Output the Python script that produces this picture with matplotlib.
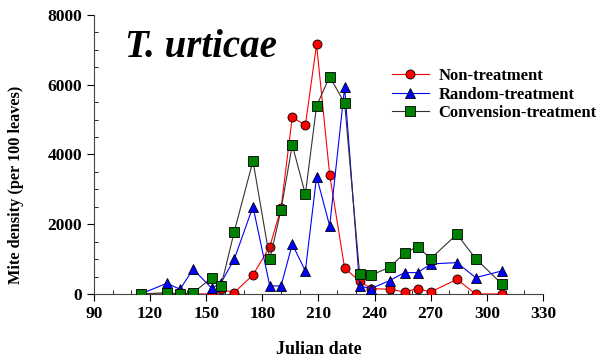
import matplotlib
matplotlib.use("Agg")
import matplotlib.pyplot as plt
from matplotlib.ticker import MultipleLocator

plt.rcParams['font.family'] = ['Liberation Serif', 'DejaVu Serif']
plt.rcParams['font.weight'] = 'bold'

# sampling dates (Julian day)
days = [115, 129, 136, 143, 153, 158, 165, 175, 184, 190, 196, 203, 209, 216,
        224, 232, 238, 248, 256, 263, 270, 284, 294, 308]

non_treat = [0, 0, 0, 0, 0, 130, 40, 545, 1356, 2457, 5066, 4836, 7150, 3412,
             736, 373, 153, 134, 57, 153, 57, 420, 0, 0]
random_treat = [0, 306, 134, 708, 163, 325, 995, 2503, 229, 229, 1425, 659, 3363, 1950,
                5926, 229, 153, 382, 611, 611, 860, 898, 468, 659]
conv_treat = [0, 37, 0, 30, 468, 239, 1786, 3813, 995, 2408, 4272, 2858, 5390, 6231,
              5467, 573, 535, 764, 1166, 1357, 1013, 1711, 1013, 287]

labels = ['Non-treatment', 'Random-treatment', 'Convension-treatment']

fig = plt.figure(figsize=(6.06, 3.62), dpi=100)
ax = fig.add_axes([0.155, 0.188, 0.741, 0.771])

ax.plot(days, non_treat, '-o', color='red', mfc='red', mec='black', mew=0.6,
        ms=6.5, lw=0.8, label=labels[0], zorder=3)
ax.plot(days, random_treat, '-^', color='blue', mfc='blue', mec='black', mew=0.6,
        ms=7, lw=0.8, label=labels[1], zorder=4)
ax.plot(days, conv_treat, '-s', color='#333333', mfc='green', mec='black', mew=0.6,
        ms=6.5, lw=0.8, label=labels[2], zorder=5)

ax.set_xlim(90, 330)
ax.set_ylim(0, 8000)
ax.xaxis.set_major_locator(MultipleLocator(30))
ax.xaxis.set_minor_locator(MultipleLocator(10))
ax.yaxis.set_major_locator(MultipleLocator(2000))
ax.yaxis.set_minor_locator(MultipleLocator(500))
ax.tick_params(which='major', direction='out', length=5, width=0.8, labelsize=12.5)
ax.tick_params(which='minor', direction='in', length=3, width=0.6)
for lab in ax.get_xticklabels() + ax.get_yticklabels():
    lab.set_fontweight('bold')

for side in ('top', 'right'):
    ax.spines[side].set_visible(False)
for side in ('left', 'bottom'):
    ax.spines[side].set_linewidth(0.8)
    ax.spines[side].set_color('#444444')

ax.set_xlabel('Julian date', fontsize=13, fontweight='bold')
ax.set_ylabel('Mite density (per 100 leaves)', fontsize=11.7, fontweight='bold')
ax.xaxis.set_label_coords(0.5, -0.168)
ax.yaxis.set_label_coords(-0.156, 0.39)

ax.text(0.069, 0.849, 'T. urticae', transform=ax.transAxes, fontsize=28,
        fontweight='bold', fontstyle='italic', va='baseline', ha='left')

ax.legend(loc='upper left', bbox_to_anchor=(0.647, 0.812), bbox_transform=fig.transFigure,
          frameon=False, handlelength=2.2, handletextpad=0.6, labelspacing=0.15,
          borderpad=0, borderaxespad=0, prop={'weight': 'bold', 'size': 12})

fig.savefig('out.png', dpi=100)
